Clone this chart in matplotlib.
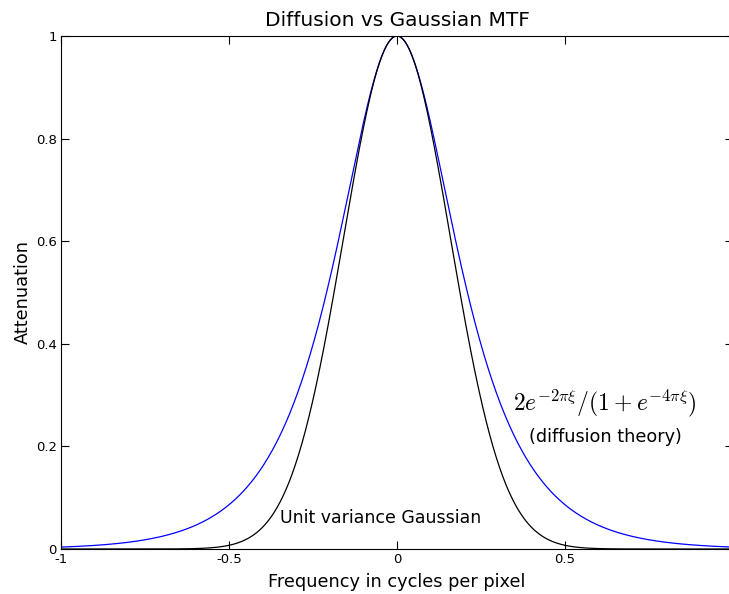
import matplotlib
matplotlib.use('Agg')
import matplotlib.pyplot as plt
import numpy as np

# frequency grid and the two MTF curves named on the chart
xi = np.linspace(-1, 1, 801)
diffusion = 2 * np.exp(-2 * np.pi * xi) / (1 + np.exp(-4 * np.pi * xi))
gaussian = np.exp(-2 * np.pi ** 2 * xi ** 2)

xtick_vals = [-1, -0.5, 0, 0.5, 1]
xtick_labels = ['-1', '-0.5', '0', '0.5', '']  # the "1" falls off the picture edge
ytick_vals = [0, 0.2, 0.4, 0.6, 0.8, 1]
ytick_labels = ['0', '0.2', '0.4', '0.6', '0.8', '1']

plt.rcParams['mathtext.fontset'] = 'cm'
plt.rcParams['axes.unicode_minus'] = False

fig = plt.figure(figsize=(7.29, 5.94), dpi=100)
# axes runs a little past the right edge, like the reference
ax = fig.add_axes([61 / 729, 45 / 594, 672 / 729, 513 / 594])

ax.plot(xi, diffusion, color='b', linewidth=0.9)
ax.plot(xi, gaussian, color='k', linewidth=0.9)

ax.set_xlim(-1, 1)
ax.set_ylim(0, 1)
ax.set_xticks(xtick_vals)
ax.set_xticklabels(xtick_labels)
ax.set_yticks(ytick_vals)
ax.set_yticklabels(ytick_labels)
ax.tick_params(direction='in', top=True, right=True, length=6, width=0.8,
               labelsize=9.5, pad=3)

ax.set_title('Diffusion vs Gaussian MTF', fontsize=14.5, pad=7)
ax.set_xlabel('Frequency in cycles per pixel', fontsize=12.8, labelpad=5)
ax.set_ylabel('Attenuation', fontsize=12.8, labelpad=3)

ax.text(0.62, 0.285, r'$2e^{-2\pi\xi}/(1+e^{-4\pi\xi})$', fontsize=17,
        ha='center', va='center')
ax.text(0.62, 0.218, '(diffusion theory)', fontsize=12.7, ha='center', va='center')
ax.text(-0.05, 0.06, 'Unit variance Gaussian', fontsize=12.5, ha='center', va='center')

fig.savefig('out.png', dpi=100)
